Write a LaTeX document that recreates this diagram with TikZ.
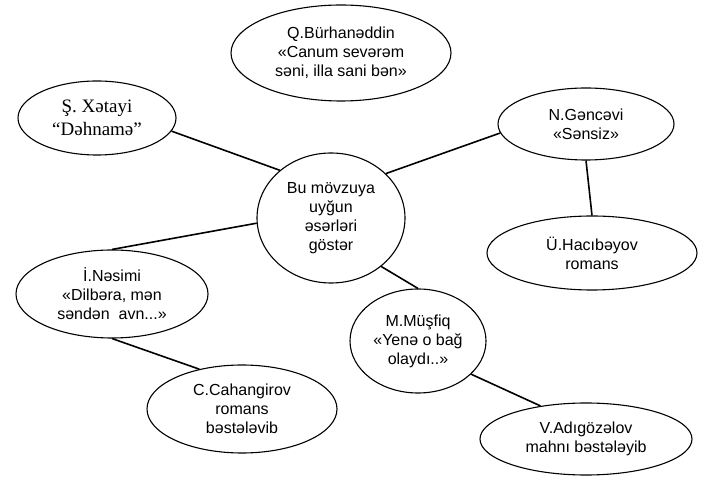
\documentclass[tikz,border=0pt]{standalone}
\usepackage{fontspec}
\setmainfont{Liberation Sans}
\newfontfamily\serifxt{Liberation Serif}
\usetikzlibrary{shapes.geometric}

\begin{document}
\begin{tikzpicture}[>=latex,line join=bevel,
  bubble/.style={draw,ellipse,inner sep=0pt,align=center,line width=1.1bp,
    font=\fontsize{16bp}{19bp}\selectfont},
  link/.style={line width=1.6bp}]
  \pgfsetlinewidth{1bp}
  \useasboundingbox (0bp,0bp) rectangle (701bp,477bp);
%%
\pgfsetcolor{black}
  % Node: topic
  \node[bubble,minimum width=148bp,minimum height=130bp] (topic) at (331bp,259bp)
    {Bu mövzuya\\uyğun\\əsərləri\\göstər};
  % Node: burhan
  \node[bubble,minimum width=220bp,minimum height=96bp] (burhan) at (341bp,424bp)
    {Q.Bürhanəddin\\«Canum sevərəm\\səni, illa sani bən»};
  % Node: xetayi
  \node[bubble,minimum width=158bp,minimum height=74bp,
    font=\serifxt\fontsize{19bp}{23bp}\selectfont] (xetayi) at (97bp,359bp)
    {Ş. Xətayi\\“Dəhnamə”};
  % Node: gencevi
  \node[bubble,minimum width=176bp,minimum height=72bp] (gencevi) at (586bp,353bp)
    {N.Gəncəvi\\«Sənsiz»};
  % Node: hacibeyov
  \node[bubble,minimum width=210bp,minimum height=74bp] (hacibeyov) at (592bp,224bp)
    {Ü.Hacıbəyov\\romans};
  % Node: nasimi
  \node[bubble,minimum width=192bp,minimum height=88bp] (nasimi) at (112bp,183bp)
    {İ.Nəsimi\\«Dilbəra, mən\\səndən\ \ avn...»};
  % Node: cahangirov
  \node[bubble,minimum width=190bp,minimum height=88bp] (cahangirov) at (242bp,68bp)
    {C.Cahangirov\\romans\\bəstələvib};
  % Node: musfiq
  \node[bubble,minimum width=136bp,minimum height=104bp] (musfiq) at (418bp,136bp)
    {M.Müşfiq\\«Yenə o bağ\\olaydı..»};
  % Node: adigozelov
  \node[bubble,minimum width=212bp,minimum height=72bp] (adigozelov) at (586bp,38bp)
    {V.Adıgözəlov\\mahnı bəstələyib};
  % Edge: xetayi -- topic
  \draw [link] (xetayi.-10) -- (topic.137);
  % Edge: topic -- gencevi
  \draw [link] (topic.39) -- (gencevi.186);
  % Edge: gencevi -- hacibeyov
  \draw [link] (gencevi.south) -- (hacibeyov.north);
  % Edge: topic -- nasimi
  \draw [link] (topic.184) -- (nasimi.north);
  % Edge: topic -- musfiq
  \draw [link] (topic.-44) -- (musfiq.north);
  % Edge: nasimi -- cahangirov
  \draw [link] (nasimi.south) -- (cahangirov.137);
  % Edge: musfiq -- adigozelov
  \draw [link] (musfiq.-32) -- (adigozelov.144);
%
\end{tikzpicture}
\end{document}
